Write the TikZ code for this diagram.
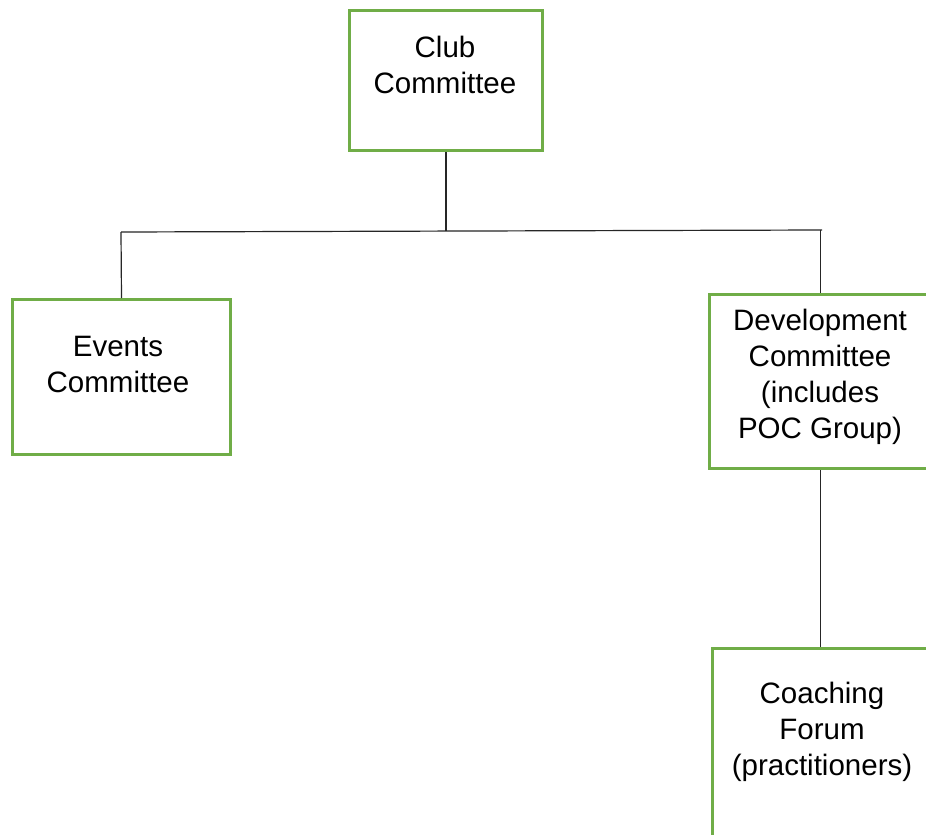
\documentclass[tikz,border=0pt]{standalone}
\usepackage{fontspec}
\setmainfont{Liberation Sans}
\definecolor{boxgreen}{RGB}{112,173,71}
\begin{document}
\begin{tikzpicture}[x=1pt,y=-1pt,
  orgbox/.style={draw=boxgreen,line width=3pt,rectangle,inner sep=0pt,anchor=north west},
  orgtext/.style={anchor=north,inner sep=0pt,align=center,font=\fontsize{29.5}{36}\selectfont},
  link/.style={draw=black!85,line width=1.2pt}]
\useasboundingbox (0,0) rectangle (926,835);
\clip (0,0) rectangle (926,835);
\fill[white] (0,0) rectangle (926,835);
% boxes
\node[orgbox,minimum width=193pt,minimum height=140pt] (club) at (348,9) {};
\node[orgbox,minimum width=218pt,minimum height=155pt] (events) at (11,298) {};
\node[orgbox,minimum width=222pt,minimum height=174pt] (dev) at (708,293) {};
\node[orgbox,minimum width=222pt,minimum height=260pt] (coach) at (711,647) {};
% texts
\node[orgtext] (clubtxt) at (445,35.5) {Club\\Committee};
\node[orgtext] (eventstxt) at (118,336) {Events\\Committee};
\node[orgtext] (devtxt) at (820,308.5) {Development\\Committee\\(includes\\POC Group)};
\node[orgtext] (coachtxt) at (822,681.5) {Coaching\\Forum\\(practitioners)};
% connectors
\coordinate (hm) at (446,231);
\coordinate (hl) at (121,232);
\coordinate (hr) at (822,230);
\draw[link] (club.south -| hm) -- (hm);
\draw[link] (hl) -- (hr);
\draw[link] (hl) -- (events.north);
\draw[link] (dev.north |- hr) -- (dev.north);
\draw[link] (dev.south) -- (dev.south |- coach.north);
\end{tikzpicture}
\end{document}
